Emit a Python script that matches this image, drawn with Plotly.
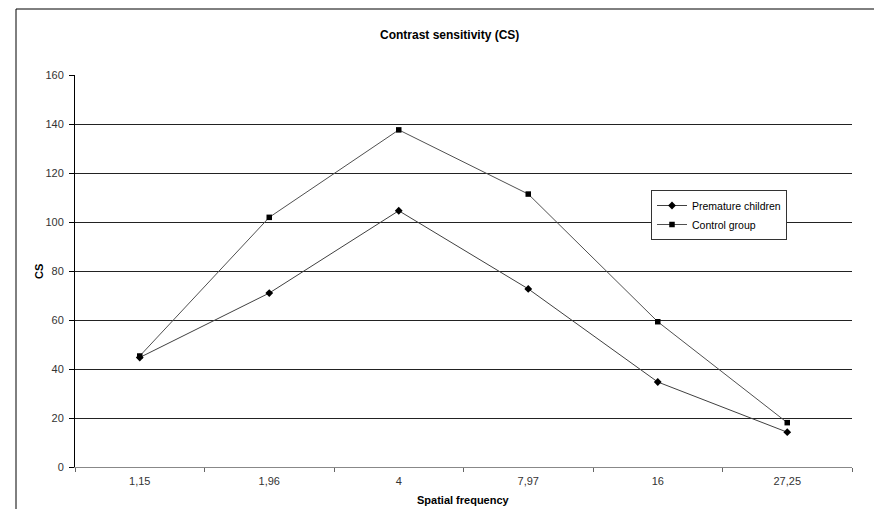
import plotly.graph_objects as go

categories = ["1,15", "1,96", "4", "7,97", "16", "27,25"]
premature = [44.7, 71.0, 104.6, 72.7, 34.7, 14.2]
control = [45.3, 101.9, 137.6, 111.4, 59.3, 18.1]

# page has an 8px body margin; size the figure so no scrollbars appear and
# the plot area lands at screen x 75..852, y 75..467
OFF = 8
W, H = 866, 501
L, T = 75 - OFF, 75 - OFF
PW, PH = 777, 392


def px(sx):
    return (sx - 75) / PW


def py(sy):
    return (467 - sy) / PH


fig = go.Figure()
fig.add_trace(go.Scatter(
    x=categories, y=premature, name="Premature children", mode="lines+markers",
    line=dict(color="#404040", width=1),
    marker=dict(symbol="diamond", size=6, color="black"),
))
fig.add_trace(go.Scatter(
    x=categories, y=control, name="Control group", mode="lines+markers",
    line=dict(color="#505050", width=1),
    marker=dict(symbol="square", size=5.5, color="black"),
))

font = "Liberation Sans, Arial, sans-serif"
fig.update_layout(
    width=W, height=H,
    margin=dict(l=L, r=W - L - PW, t=T, b=H - T - PH),
    paper_bgcolor="white", plot_bgcolor="white",
    font=dict(family=font, size=11, color="#222"),
    showlegend=True,
    legend=dict(x=px(651), y=py(190), xanchor="left", yanchor="top",
                bgcolor="white", bordercolor="#333", borderwidth=1,
                font=dict(family=font, size=10.5, color="black"),
                tracegroupgap=0, itemwidth=30),
    xaxis=dict(
        type="category", range=[-0.5, 5.5],
        showgrid=False, showline=True, linecolor="#888", linewidth=1,
        ticks="outside", ticklen=4, tickcolor="#666", tickson="boundaries",
        ticklabelstandoff=4,
        tickfont=dict(family=font, size=11, color="#333"),
        zeroline=False,
    ),
    yaxis=dict(
        range=[0, 160], dtick=20,
        showgrid=True, gridcolor="#222", gridwidth=1,
        showline=True, linecolor="black", linewidth=1,
        ticks="outside", ticklen=5, tickcolor="black",
        ticklabelstandoff=3,
        tickfont=dict(family=font, size=11, color="#333"),
        zeroline=False,
    ),
    annotations=[
        dict(text="<b>Contrast sensitivity (CS)</b>", xref="paper", yref="paper",
             x=px(449), y=py(35), xanchor="center", yanchor="middle",
             showarrow=False,
             font=dict(family=font, size=12, color="black")),
        dict(text="<b>CS</b>", xref="paper", yref="paper",
             x=px(39), y=py(272), xanchor="center", yanchor="middle",
             textangle=-90, showarrow=False,
             font=dict(family=font, size=11, color="black")),
        dict(text="<b>Spatial frequency</b>", xref="paper", yref="paper",
             x=px(463), y=py(500), xanchor="center", yanchor="middle",
             showarrow=False,
             font=dict(family=font, size=11, color="black")),
    ],
    shapes=[
        dict(type="line", xref="paper", yref="paper",
             x0=px(16), x1=px(900), y0=py(9), y1=py(9),
             line=dict(color="black", width=1), layer="below"),
        dict(type="line", xref="paper", yref="paper",
             x0=px(16), x1=px(16), y0=py(9), y1=py(540),
             line=dict(color="black", width=1), layer="below"),
    ],
)

fig.write_html("out.html")
